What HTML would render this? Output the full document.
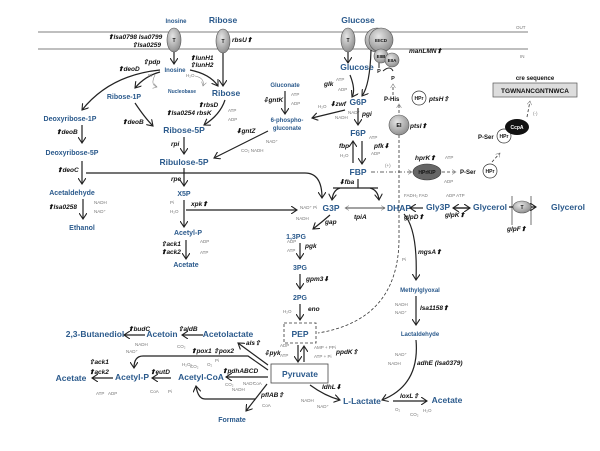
<!DOCTYPE html>
<html><head><meta charset="utf-8"><style>
html,body{margin:0;padding:0;background:#fff}
svg{display:block}
.m{font-family:"Liberation Sans",sans-serif;font-weight:bold;fill:#2b5a8c;font-size:7px}
.M{font-family:"Liberation Sans",sans-serif;font-weight:bold;fill:#2b5a8c;font-size:8.5px}
.e{font-family:"Liberation Sans",sans-serif;font-weight:bold;font-style:italic;fill:#111;font-size:6.5px}
.c{font-family:"Liberation Sans",sans-serif;fill:#777;font-size:4.5px}
.k{font-family:"Liberation Sans",sans-serif;font-weight:bold;fill:#111;font-size:7px}
.a{stroke:#222;stroke-width:1.2;fill:none;marker-end:url(#ar)}
.t{stroke:#888;stroke-width:0.6;fill:none;marker-end:url(#as)}
.d{stroke:#333;stroke-width:0.8;fill:none;stroke-dasharray:3,2}
</style></head><body>
<svg width="600" height="451" viewBox="0 0 600 451" xmlns="http://www.w3.org/2000/svg">
<defs>
<marker id="ar" markerWidth="8" markerHeight="8" refX="6" refY="4" orient="auto" markerUnits="userSpaceOnUse"><path d="M0,0 L6,4 L0,8" fill="none" stroke="#222" stroke-width="1.1"/></marker>
<marker id="as" markerWidth="5" markerHeight="5" refX="4" refY="2.5" orient="auto" markerUnits="userSpaceOnUse"><path d="M0,0 L4,2.5 L0,5" fill="none" stroke="#888" stroke-width="0.6"/></marker>
<radialGradient id="g" cx="40%" cy="35%" r="70%"><stop offset="0" stop-color="#e6e6e6"/><stop offset="1" stop-color="#8a8a8a"/></radialGradient>
</defs>
<line x1="38" y1="32" x2="528" y2="32" stroke="#999" stroke-width="1.2"/>
<line x1="38" y1="49" x2="528" y2="49" stroke="#999" stroke-width="1.2"/>
<text x="516" y="29" class="c">OUT</text><text x="520" y="58" class="c">IN</text>
<text x="176" y="23" class="m" text-anchor="middle" style="font-size:6px">Inosine</text>
<text x="223" y="23" class="M" text-anchor="middle">Ribose</text>
<ellipse cx="174" cy="40" rx="7" ry="12" fill="url(#g)" stroke="#555" stroke-width="0.6"/><text x="174" y="42" class="k" style="font-size:5px" text-anchor="middle">T</text>
<ellipse cx="223" cy="41" rx="7" ry="12" fill="url(#g)" stroke="#555" stroke-width="0.6"/><text x="223" y="43" class="k" style="font-size:5px" text-anchor="middle">T</text>
<text x="108" y="39" class="e">⬆lsa0798 lsa0799</text>
<text x="132" y="47" class="e">⇧lsa0259</text>
<text x="232" y="42" class="e">rbsU⬆</text>
<path d="M174,52 V64" class="a"/><path d="M223,53 V86" class="a"/>
<text x="175" y="72" class="m" text-anchor="middle" style="font-size:6px">Inosine</text>
<text x="190" y="60" class="e">⬆lunH1</text><text x="190" y="67" class="e">⇧lunH2</text>
<text x="118" y="71" class="e">⬆deoD</text><text x="143" y="64" class="e">⇧pdp</text>
<path d="M160,70 Q110,75 82,110" class="a"/>
<path d="M160,72 Q145,76 135,88" class="a"/>
<path d="M155,75 Q150,85 157,87" class="t"/>
<path d="M190,70 Q210,74 218,86" class="a"/>
<path d="M195,76 Q205,78 203,86" class="t"/>
<text x="148" y="77" class="c">Pi</text><text x="186" y="77" class="c">H₂O</text>
<text x="182" y="93" class="m" text-anchor="middle" style="font-size:5px">Nucleobase</text>
<text x="226" y="96" class="M" text-anchor="middle">Ribose</text>
<text x="124" y="99" class="m" text-anchor="middle">Ribose-1P</text>
<text x="70" y="121" class="m" text-anchor="middle">Deoxyribose-1P</text>
<text x="56" y="134" class="e">⬆deoB</text><path d="M82,125 V143" class="a"/>
<text x="72" y="155" class="m" text-anchor="middle">Deoxyribose-5P</text>
<text x="57" y="172" class="e">⬆deoC</text><path d="M82,161 V184" class="a"/>
<text x="72" y="195" class="m" text-anchor="middle">Acetaldehyde</text>
<text x="48" y="209" class="e">⬆lsa0258</text><path d="M83,199 V219" class="a"/>
<text x="94" y="204" class="c">NADH</text><text x="94" y="213" class="c">NAD⁺</text>
<text x="82" y="230" class="m" text-anchor="middle">Ethanol</text>
<text x="122" y="124" class="e">⬆deoB</text><path d="M135,103 Q145,118 153,126" class="a"/>
<text x="198" y="107" class="e">⬆rbsD</text>
<text x="166" y="115" class="e">⬆lsa0254 rbsK</text>
<text x="228" y="112" class="c">ATP</text><text x="228" y="121" class="c">ADP</text>
<path d="M225,100 Q220,115 204,125" class="a"/>
<text x="184" y="133" class="M" text-anchor="middle">Ribose-5P</text>
<text x="171" y="146" class="e">rpi</text><path d="M184,137 V154" class="a"/>
<text x="184" y="165" class="M" text-anchor="middle">Ribulose-5P</text>
<text x="171" y="181" class="e">rpe</text><path d="M184,168 V186" class="a"/>
<text x="184" y="196" class="m" text-anchor="middle">X5P</text>
<text x="191" y="206" class="e">xpk⬆</text>
<path d="M186,210 H297" class="a"/>
<path d="M184,200 V227" class="a"/>
<text x="170" y="204" class="c">Pi</text><text x="170" y="213" class="c">H₂O</text>
<text x="188" y="235" class="m" text-anchor="middle">Acetyl-P</text>
<text x="161" y="246" class="e">⇧ack1</text><text x="161" y="254" class="e">⬆ack2</text>
<path d="M186,240 V259" class="a"/>
<text x="200" y="243" class="c">ADP</text><text x="200" y="254" class="c">ATP</text>
<text x="186" y="267" class="m" text-anchor="middle">Acetate</text>
<path d="M86,173 H305 Q322,173 322,198" class="a"/>
<text x="285" y="87" class="m" text-anchor="middle" style="font-size:6px">Gluconate</text>
<text x="263" y="102" class="e">⇩gntK</text><path d="M285,91 V114" class="a"/>
<text x="291" y="96" class="c">ATP</text><text x="291" y="105" class="c">ADP</text>
<text x="287" y="122" class="m" text-anchor="middle" style="font-size:6px">6-phospho-</text>
<text x="287" y="130" class="m" text-anchor="middle" style="font-size:6px">gluconate</text>
<text x="236" y="133" class="e">⬇gntZ</text>
<path d="M268,131 L214,158" class="a"/>
<text x="266" y="143" class="c">NAD⁺</text><text x="241" y="152" class="c">CO₂ NADH</text>
<text x="358" y="23" class="M" text-anchor="middle">Glucose</text>
<ellipse cx="348" cy="40" rx="7" ry="12" fill="url(#g)" stroke="#555" stroke-width="0.6"/><text x="348" y="42" class="k" style="font-size:5px" text-anchor="middle">T</text>
<circle cx="377" cy="40" r="12" fill="url(#g)" stroke="#555" stroke-width="0.6"/>
<circle cx="381" cy="40" r="12" fill="url(#g)" stroke="#555" stroke-width="0.6"/><text x="381" y="42" class="k" style="font-size:4.5px" text-anchor="middle">EIICD</text>
<circle cx="381" cy="56" r="7" fill="url(#g)" stroke="#555" stroke-width="0.6"/><text x="381" y="58" class="k" style="font-size:4.5px" text-anchor="middle">EIIB</text>
<circle cx="392" cy="60" r="7" fill="url(#g)" stroke="#555" stroke-width="0.6"/><text x="392" y="62" class="k" style="font-size:4.5px" text-anchor="middle">EIIA</text>
<text x="409" y="53" class="e">manLMN⬆</text>
<path d="M348,52 V63" class="a"/>
<text x="357" y="70" class="M" text-anchor="middle">Glucose</text>
<path d="M371,50 Q370,85 362,96" class="a"/>
<path d="M379,63 V68" stroke="#222" fill="none"/><text x="379" y="73" class="k" text-anchor="middle" style="font-size:5.5px">P</text>
<path d="M383,71 Q390,65 393,71" stroke="#222" fill="none"/><text x="393" y="80" class="k" text-anchor="middle" style="font-size:5.5px">P</text>
<text x="324" y="86" class="e">glk</text>
<path d="M350,75 Q356,90 352,97" class="a"/>
<text x="336" y="81" class="c">ATP</text><text x="338" y="91" class="c">ADP</text>
<text x="358" y="105" class="M" text-anchor="middle">G6P</text>
<text x="330" y="106" class="e">⬇zwf</text>
<path d="M345,110 L312,118" class="a"/>
<text x="318" y="108" class="c">H₂O</text><text x="335" y="119" class="c">NADH</text><text x="348" y="114" class="c">NAD⁺</text>
<text x="362" y="116" class="e">pgi</text><path d="M358,108 V125" class="a"/>
<text x="358" y="136" class="M" text-anchor="middle">F6P</text>
<text x="339" y="148" class="e">fbp</text><path d="M353,163 V141" class="a"/>
<text x="374" y="148" class="e">pfk⬇</text><path d="M362,141 V164" class="a"/>
<text x="369" y="139" class="c">ATP</text><text x="371" y="155" class="c">ADP</text><text x="340" y="157" class="c">H₂O</text>
<text x="358" y="175" class="M" text-anchor="middle">FBP</text>
<text x="339" y="184" class="e">⬇fba</text>
<path d="M358,179 V188 M333,188 H378" stroke="#222" stroke-width="1.2" fill="none"/>
<path d="M340,188 Q333,190 332,200" class="a"/><path d="M370,188 Q378,190 379,200" class="a"/>
<path d="M393,95 V84" class="d" marker-end="url(#as)"/>
<text x="384" y="101" class="k" style="font-size:6px">P-His</text>
<circle cx="419" cy="98" r="7" fill="#fff" stroke="#333" stroke-width="0.7"/><text x="419" y="100" class="k" text-anchor="middle" style="font-size:5px">HPr</text>
<text x="429" y="101" class="e">ptsH⇧</text>
<path d="M399,113 V104" class="d" marker-end="url(#as)"/>
<circle cx="399" cy="125" r="10" fill="url(#g)" stroke="#555" stroke-width="0.6"/><text x="399" y="127" class="k" text-anchor="middle" style="font-size:5.5px">EI</text>
<text x="410" y="128" class="e">ptsI⬆</text>
<path d="M399,135 V240 Q398,320 318,333" class="d"/>
<text x="385" y="167" class="c">(+)</text>
<path d="M371,172 H412" stroke="#333" stroke-width="0.8" stroke-dasharray="4,2,1,2" fill="none" marker-end="url(#as)"/>
<text x="415" y="160" class="e">hprK⬆</text><text x="445" y="159" class="c">ATP</text>
<ellipse cx="427" cy="172" rx="14" ry="8" fill="#666" stroke="#333" stroke-width="0.6"/><text x="427" y="174" class="k" text-anchor="middle" style="font-size:5px;fill:#111">HPrK/P</text>
<text x="444" y="183" class="c">ADP</text>
<path d="M442,172 H456" class="d" marker-end="url(#as)"/>
<text x="460" y="174" class="k" style="font-size:6px">P-Ser</text>
<circle cx="490" cy="171" r="7" fill="#fff" stroke="#333" stroke-width="0.7"/><text x="490" y="173" class="k" text-anchor="middle" style="font-size:5px">HPr</text>
<path d="M492,162 L500,153" class="d" marker-end="url(#as)"/>
<text x="478" y="139" class="k" style="font-size:6px">P-Ser</text>
<circle cx="504" cy="136" r="7" fill="#fff" stroke="#333" stroke-width="0.7"/><text x="504" y="138" class="k" text-anchor="middle" style="font-size:5px">HPr</text>
<ellipse cx="517" cy="127" rx="12" ry="8" fill="#111"/><text x="517" y="129" class="k" text-anchor="middle" style="font-size:5px;fill:#fff">CcpA</text>
<path d="M527,117 L530,101" class="d" marker-end="url(#as)"/>
<text x="533" y="115" class="c">(-)</text>
<text x="535" y="80" class="k" text-anchor="middle" style="font-size:6px">cre sequence</text>
<rect x="493" y="83" width="84" height="14" fill="#ddd" stroke="#555" stroke-width="0.7"/>
<text x="535" y="93" class="k" text-anchor="middle" style="font-size:6.5px">TGWNANCGNTNWCA</text>
<text x="331" y="211" class="M" text-anchor="middle">G3P</text>
<text x="399" y="211" class="M" text-anchor="middle">DHAP</text>
<path d="M345,208 H385" class="t" style="stroke:#444;stroke-width:0.9"/><path d="M385,208 H345" class="t" style="stroke:#444;stroke-width:0.9"/>
<text x="354" y="219" class="e">tpiA</text>
<text x="300" y="209" class="c">NAD⁺ Pi</text><text x="296" y="220" class="c">NADH</text>
<path d="M330,215 Q322,222 313,229" class="a"/>
<text x="325" y="224" class="e">gap</text>
<text x="296" y="239" class="m" text-anchor="middle">1,3PG</text>
<text x="305" y="248" class="e">pgk</text><path d="M300,243 V259" class="a"/>
<text x="287" y="243" class="c">ADP</text><text x="287" y="252" class="c">ATP</text>
<text x="300" y="270" class="m" text-anchor="middle">3PG</text>
<text x="306" y="281" class="e">gpm3⬇</text><path d="M300,274 V289" class="a"/>
<text x="300" y="300" class="m" text-anchor="middle">2PG</text>
<text x="308" y="311" class="e">eno</text><path d="M300,304 V320" class="a"/>
<text x="283" y="313" class="c">H₂O</text>
<rect x="284" y="323" width="32" height="20" fill="#fff" stroke="#333" stroke-width="0.8" stroke-dasharray="3,2"/>
<text x="300" y="337" class="M" text-anchor="middle">PEP</text>
<path d="M298,345 V362" class="a"/><path d="M304,362 V346" class="a"/>
<text x="280" y="347" class="c">ADP</text><text x="280" y="357" class="c">ATP</text>
<text x="314" y="349" class="c">AMP + PPi</text><text x="314" y="358" class="c">ATP + Pi</text>
<text x="264" y="355" class="e">⇩pyk</text><text x="336" y="354" class="e">ppdK⇧</text>
<rect x="271" y="364" width="57" height="19" fill="#fff" stroke="#444" stroke-width="0.8"/>
<text x="300" y="377" class="M" text-anchor="middle">Pyruvate</text>
<text x="438" y="210" class="M" text-anchor="middle">Gly3P</text>
<path d="M423,208 H410" class="a"/>
<text x="404" y="197" class="c">FADH₂ FAD</text>
<text x="404" y="219" class="e">glpD⬆</text>
<path d="M453,208 H470" class="a"/><path d="M470,208 H453" class="a"/>
<text x="446" y="197" class="c">ADP ATP</text>
<text x="445" y="217" class="e">glpK⬆</text>
<text x="490" y="210" class="M" text-anchor="middle">Glycerol</text>
<line x1="512" y1="196" x2="512" y2="225" stroke="#888" stroke-width="1.2"/><line x1="531" y1="196" x2="531" y2="225" stroke="#888" stroke-width="1.2"/>
<ellipse cx="522" cy="207" rx="9" ry="6" fill="url(#g)" stroke="#555" stroke-width="0.6"/><text x="522" y="209" class="k" text-anchor="middle" style="font-size:5px">T</text>
<path d="M513,207 H509 M531,207 H536" class="a"/>
<text x="568" y="210" class="M" text-anchor="middle">Glycerol</text>
<text x="507" y="231" class="e">glpF⬆</text>
<path d="M404,214 Q418,230 416,280" class="a"/>
<text x="418" y="254" class="e">mgsA⬆</text><text x="402" y="261" class="c">Pi</text>
<text x="420" y="292" class="m" text-anchor="middle" style="font-size:6px">Methylglyoxal</text>
<path d="M416,296 V325" class="a"/>
<text x="395" y="306" class="c">NADH</text><text x="395" y="314" class="c">NAD⁺</text>
<text x="420" y="310" class="e">lsa1158⬆</text>
<text x="420" y="336" class="m" text-anchor="middle" style="font-size:6px">Lactaldehyde</text>
<path d="M416,340 Q420,385 382,400" class="a"/>
<text x="395" y="356" class="c">NAD⁺</text><text x="388" y="365" class="c">NADH</text>
<text x="417" y="365" class="e">adhE (lsa0379)</text>
<path d="M310,385 Q325,396 340,400" class="a"/>
<text x="322" y="389" class="e">ldhL⬇</text>
<text x="301" y="402" class="c">NADH</text><text x="317" y="408" class="c">NAD⁺</text>
<text x="362" y="404" class="M" text-anchor="middle">L-Lactate</text>
<path d="M393,401 H427" class="a"/>
<text x="400" y="398" class="e">loxL⇧</text>
<text x="395" y="411" class="c">O₂</text><text x="410" y="416" class="c">CO₂</text><text x="423" y="412" class="c">H₂O</text>
<text x="447" y="403" class="M" text-anchor="middle">Acetate</text>
<path d="M268,365 L238,343" class="a"/>
<text x="246" y="345" class="e">als⇧</text>
<text x="228" y="337" class="M" text-anchor="middle">Acetolactate</text>
<path d="M203,335 H182" class="a"/>
<text x="178" y="331" class="e">⇧aldB</text><text x="177" y="348" class="c">CO₂</text>
<text x="162" y="337" class="M" text-anchor="middle">Acetoin</text>
<path d="M145,335 H124" class="a"/>
<text x="128" y="331" class="e">⬆budC</text>
<text x="135" y="346" class="c">NADH</text><text x="126" y="353" class="c">NAD⁺</text>
<text x="95" y="337" class="M" text-anchor="middle">2,3-Butanediol</text>
<path d="M268,370 L248,356 H143 Q134,356 134,368" class="a"/>
<text x="191" y="353" class="e">⬆pox1 ⇧pox2</text>
<text x="182" y="366" class="c">H₂O₂</text><text x="190" y="368" class="c">CO₂</text><text x="207" y="366" class="c">O₂</text><text x="215" y="362" class="c">Pi</text>
<path d="M268,377 H226" class="a"/>
<text x="222" y="373" class="e">⬆pdhABCD</text>
<text x="225" y="386" class="c">CO₂</text><text x="232" y="391" class="c">NADH</text><text x="243" y="385" class="c">NAD⁺</text><text x="253" y="385" class="c">CoA</text>
<text x="201" y="380" class="M" text-anchor="middle">Acetyl-CoA</text>
<path d="M267,384 L246,411" class="a"/>
<path d="M255,399 H205 Q198,399 196,386" class="a"/>
<text x="261" y="397" class="e">pflAB⇧</text><text x="262" y="407" class="c">CoA</text>
<text x="232" y="422" class="m" text-anchor="middle">Formate</text>
<path d="M171,378 H152" class="a"/>
<text x="150" y="374" class="e">⬆eutD</text>
<text x="150" y="393" class="c">CoA</text><text x="168" y="393" class="c">Pi</text>
<text x="132" y="380" class="M" text-anchor="middle">Acetyl-P</text>
<path d="M113,378 H92" class="a"/>
<text x="89" y="364" class="e">⇧ack1</text><text x="89" y="374" class="e">⬆ack2</text>
<text x="96" y="395" class="c">ATP</text><text x="108" y="395" class="c">ADP</text>
<text x="71" y="381" class="M" text-anchor="middle">Acetate</text>
</svg>
</body></html>
